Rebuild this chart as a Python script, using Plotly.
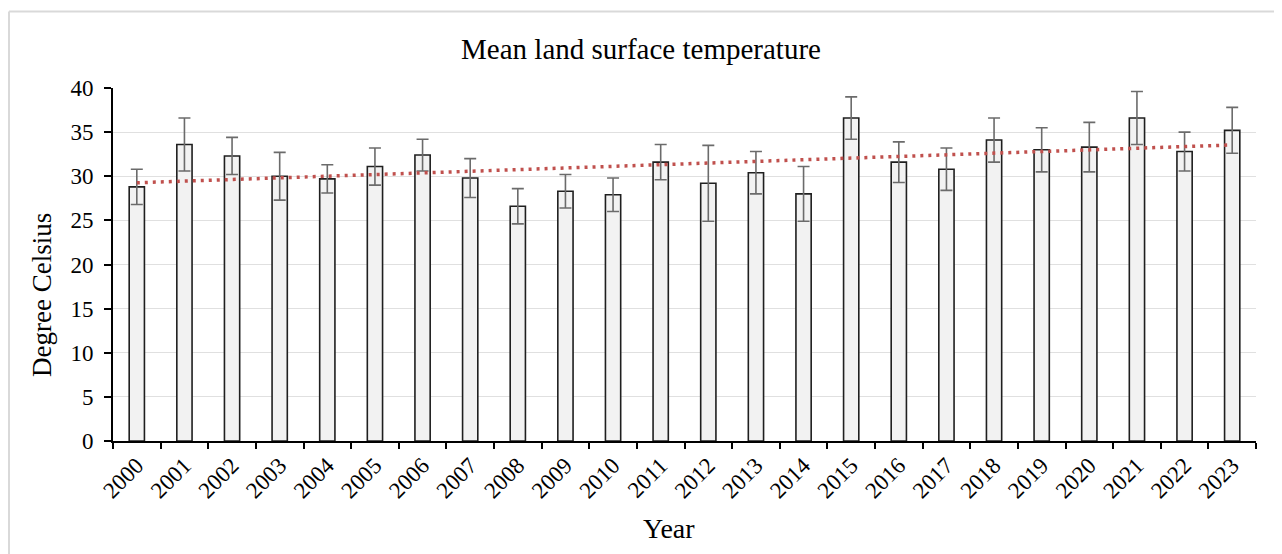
import numpy as np
import plotly.graph_objects as go

years = [str(y) for y in range(2000, 2024)]
mean_temp = [28.8, 33.6, 32.3, 30.0, 29.7, 31.1, 32.4, 29.8, 26.6, 28.3, 27.9, 31.6,
             29.2, 30.4, 28.0, 36.6, 31.6, 30.8, 34.1, 33.0, 33.3, 36.6, 32.8, 35.2]
error = [2.0, 3.0, 2.1, 2.7, 1.6, 2.1, 1.8, 2.2, 2.0, 1.9, 1.9, 2.0,
         4.3, 2.4, 3.1, 2.4, 2.3, 2.4, 2.5, 2.5, 2.8, 3.0, 2.2, 2.6]
y_ticks = [0, 5, 10, 15, 20, 25, 30, 35, 40]

idx = np.arange(len(mean_temp))
slope, intercept = np.polyfit(idx, mean_temp, 1)
trend = (slope * idx + intercept).tolist()

FONT = "Liberation Serif, Times New Roman, serif"

fig = go.Figure()
fig.add_trace(go.Bar(
    x=years, y=mean_temp,
    marker=dict(color="#f2f2f2", line=dict(color="#1f1f1f", width=1.6)),
    error_y=dict(type="data", array=error, visible=True, color="#6b6b6b",
                 thickness=1.6, width=6),
    width=0.32,
    showlegend=False,
))
fig.add_trace(go.Scatter(
    x=years, y=trend, mode="lines",
    line=dict(color="#c0504d", width=3.5, dash="3px,5px"),
    showlegend=False,
))

OFF = 8  # page body margin
W, H = 1282 - OFF, 554 - OFF
# plot area in page pixels: x 113..1256, y 88..441
ml = 113 - OFF
mr = W - (1256 - OFF)
mt = 88 - OFF
mb = H - (441 - OFF)
pw, ph = W - ml - mr, H - mt - mb

def px_x(p):
    return (p - OFF - ml) / pw

def px_y(p):
    return (H - mb - (p - OFF)) / ph

border = dict(color="#d9d9d9", width=2)
xl, xr = px_x(OFF + 1), px_x(1276)
yt, yb = px_y(11.5), px_y(600)
for x0, y0, x1, y1 in [(xl, yt, xr, yt), (xl, yt, xl, yb), (xr, yt, xr, yb)]:
    fig.add_shape(type="line", xref="paper", yref="paper",
                  x0=x0, y0=y0, x1=x1, y1=y1, line=border, layer="above")

fig.update_layout(
    width=W, height=H,
    margin=dict(l=ml, r=mr, t=mt, b=mb, autoexpand=False),
    paper_bgcolor="white", plot_bgcolor="white",
    font=dict(family=FONT, color="black", size=23),
    title=dict(text="Mean land surface temperature", x=px_x(641), xanchor="center",
               xref="paper", y=1 - (49 - OFF) / H, yanchor="middle",
               font=dict(size=29, family=FONT)),
    xaxis=dict(
        type="category", tickson="boundaries", ticks="outside", ticklen=6,
        tickcolor="black", tickwidth=1.5, showline=True, linecolor="black",
        linewidth=2, tickangle=-45, showgrid=False, automargin=False,
        tickfont=dict(size=23, family=FONT),
    ),
    yaxis=dict(
        range=[0, 40], tickvals=y_ticks, ticks="outside", ticklen=7,
        tickcolor="black", tickwidth=1.5, showline=True, linecolor="black",
        linewidth=2, showgrid=True, gridcolor="#e0e0e0", gridwidth=1,
        zeroline=False, tickfont=dict(size=23, family=FONT), automargin=False,
        ticklabelstandoff=6,
    ),
    annotations=[
        dict(text="Year", xref="paper", yref="paper", x=px_x(669), y=px_y(528),
             xanchor="center", yanchor="middle", showarrow=False,
             font=dict(size=28, family=FONT)),
        dict(text="Degree Celsius", xref="paper", yref="paper", x=px_x(42), y=px_y(295),
             xanchor="center", yanchor="middle", showarrow=False, textangle=-90,
             font=dict(size=27, family=FONT)),
    ],
)

fig.write_html("out.html")
